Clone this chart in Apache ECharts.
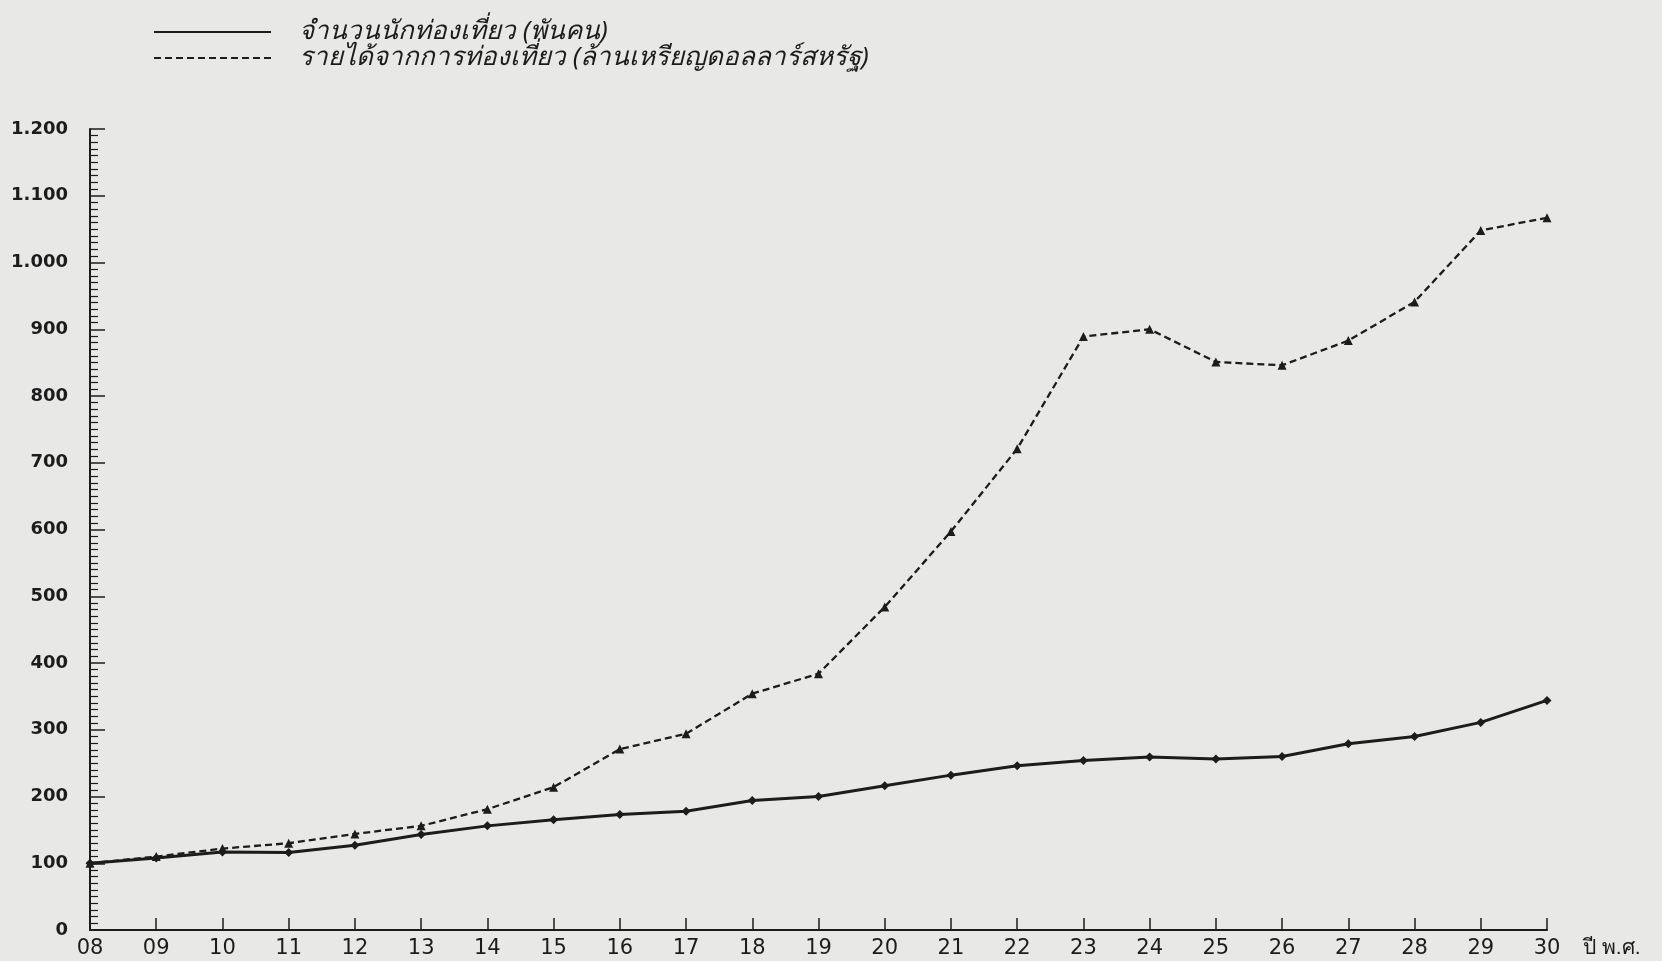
<!DOCTYPE html>
<html>
<head>
<meta charset="utf-8">
<script src="https://cdn.jsdelivr.net/npm/echarts@6/dist/echarts.min.js"></script>
<style>
html,body{margin:0;padding:0;background:#e8e8e6;}
#c{width:1662px;height:961px;}
</style>
</head>
<body>
<div id="c"></div>
<script>
const years = ['08','09','10','11','12','13','14','15','16','17','18','19','20','21','22','23','24','25','26','27','28','29','30'];
const tourists = [100,108,117,116,127,143,156,165,173,178,194,200,216,232,246,254,259,256,260,279,290,311,344];
const revenue = [100,110,122,130,144,156,181,214,271,294,354,384,484,597,721,889,900,851,846,883,941,1048,1067];
const seriesNames = ['จำนวนนักท่องเที่ยว (พันคน)', 'รายได้จากการท่องเที่ยว (ล้านเหรียญดอลลาร์สหรัฐ)'];
const yTicks = [0,100,200,300,400,500,600,700,800,900,1000,1100,1200];

const ink = '#1c1c1c';
const chart = echarts.init(document.getElementById('c'));
chart.setOption({
  backgroundColor: '#e8e8e6',
  animation: false,
  legend: {
    left: 148, top: 14, orient: 'vertical', itemGap: 0,
    itemWidth: 117, itemHeight: 14,
    itemStyle: {opacity: 0},
    textStyle: {fontSize: 26, lineHeight: 26, color: ink, fontFamily: 'Noto Sans, sans-serif', fontStyle: 'italic', padding: [0,0,0,23]},
    data: seriesNames
  },
  grid: {left: 90, right: 115, top: 129, bottom: 31, containLabel: false},
  xAxis: {
    type: 'category', data: years, boundaryGap: false,
    name: 'ปี พ.ศ.', nameLocation: 'end', nameGap: 36,
    nameTextStyle: {fontSize: 21, color: ink, verticalAlign: 'top', padding: [8,0,0,0]},
    axisLine: {lineStyle: {color: ink, width: 2}},
    axisTick: {inside: true, length: 12, lineStyle: {color: ink, width: 1.5}, alignWithLabel: true,
      interval: i => i > 0},
    axisLabel: {fontSize: 21, color: ink, margin: 8, fontFamily: 'DejaVu Sans, sans-serif'},
    splitLine: {show: false}
  },
  yAxis: {
    type: 'value', min: 0, max: 1200, interval: 100,
    axisLine: {show: true, lineStyle: {color: ink, width: 2}},
    axisTick: {show: true, inside: true, length: 15, lineStyle: {color: ink, width: 1.5}},
    minorTick: {show: true, splitNumber: 10, length: 8, lineStyle: {color: ink, width: 1.2}},
    axisLabel: {
      fontSize: 18, color: ink, margin: 22, fontWeight: 'bold', fontFamily: 'DejaVu Sans, sans-serif',
      formatter: v => yTicks.includes(v) ? (v >= 1000 ? Math.floor(v/1000) + '.' + String(v%1000).padStart(3,'0') : String(v)) : ''
    },
    splitLine: {show: false}
  },
  series: [
    {
      name: seriesNames[0], type: 'line', data: tourists,
      symbol: 'diamond', symbolSize: 9,
      lineStyle: {color: ink, width: 3, type: 'solid'},
      itemStyle: {color: ink}
    },
    {
      name: seriesNames[1], type: 'line', data: revenue,
      symbol: 'triangle', symbolSize: 9,
      lineStyle: {color: ink, width: 2.3, type: [7,4]},
      itemStyle: {color: ink}
    }
  ]
});
</script>
</body>
</html>
